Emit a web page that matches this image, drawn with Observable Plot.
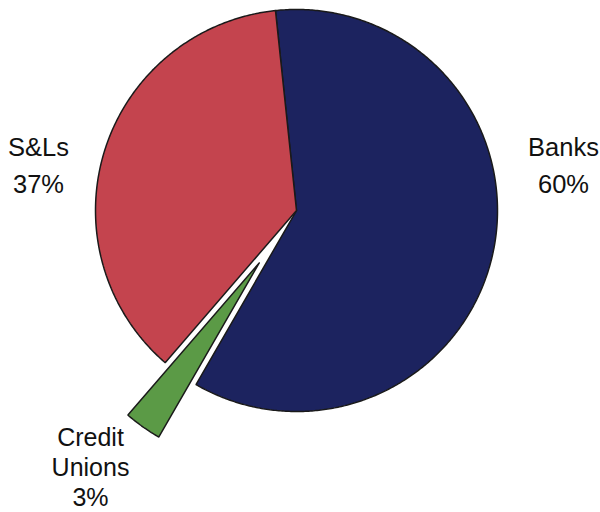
<!DOCTYPE html>
<html>
<head>
<meta charset="utf-8">
<script src="https://cdn.jsdelivr.net/npm/d3@7"></script>
<script src="https://cdn.jsdelivr.net/npm/@observablehq/plot@0.6"></script>
<style>
  html, body { margin: 0; padding: 0; background: #fff; }
  #chart svg { display: block; }
</style>
</head>
<body>
<div id="chart"></div>
<script>
// Data (in clockwise order, starting near 12 o'clock)
const categories = ["Banks", "Credit Unions", "S&Ls"];
const shares = [60, 3, 37];
const labels = ["Banks\n60%", "Credit\nUnions\n3%", "S&Ls\n37%"];
const colors = ["#1c235f", "#5b9a46", "#c4444e"];

// Layout (styling)
const W = 600, H = 512;
const cx = 296, cy = 210, R = 201;
const startDeg = -6;
const explodeFrac = [0, 0.32, 0];

const pie = d3.pie().sort(null).value(d => d)
  .startAngle(startDeg * Math.PI / 180)
  .endAngle((startDeg + 360) * Math.PI / 180);
const arcs = pie(shares);

// Build slice polygons in unit-radius data space (y up)
const pts = [];
arcs.forEach((a, i) => {
  const mid = (a.startAngle + a.endAngle) / 2;
  const ox = explodeFrac[i] * Math.sin(mid);
  const oy = explodeFrac[i] * Math.cos(mid);
  const cat = categories[i];
  pts.push({cat, x: ox, y: oy});
  const n = Math.max(4, Math.ceil((a.endAngle - a.startAngle) / (Math.PI / 360)));
  for (let k = 0; k <= n; k++) {
    const t = a.startAngle + (a.endAngle - a.startAngle) * k / n;
    pts.push({cat, x: ox + Math.sin(t), y: oy + Math.cos(t)});
  }
  pts.push({cat, x: ox, y: oy});
});

const textData = categories.map((c, i) => ({cat: c, label: labels[i]}));

const plot = Plot.plot({
  width: W,
  height: H,
  margin: 0,
  x: {domain: [-cx / R, (W - cx) / R], range: [0, W], axis: null},
  y: {domain: [-(H - cy) / R, cy / R], range: [H, 0], axis: null},
  color: {domain: categories, range: colors},
  style: {fontFamily: "'Liberation Sans', Arial, sans-serif", background: "#fff"},
  marks: [
    Plot.line(pts, {x: "x", y: "y", z: "cat", fill: "cat", stroke: "#1a1a1a", strokeWidth: 1.5, strokeLinejoin: "miter", curve: "linear"}),
    Plot.text(textData.filter(d => d.cat === "Banks"), {text: "label", frameAnchor: "right", dx: -37, dy: -94, fontSize: 25.5, lineHeight: 1.45, textAnchor: "middle", fill: "#111"}),
    Plot.text(textData.filter(d => d.cat === "S&Ls"), {text: "label", frameAnchor: "left", dx: 38, dy: -94, fontSize: 25.5, lineHeight: 1.45, textAnchor: "middle", fill: "#111"}),
    Plot.text(textData.filter(d => d.cat === "Credit Unions"), {text: "label", frameAnchor: "bottom-left", dx: 90, dy: -7, fontSize: 25, lineHeight: 1.2, textAnchor: "middle", fill: "#111"})
  ]
});
document.getElementById("chart").appendChild(plot);
</script>
</body>
</html>
